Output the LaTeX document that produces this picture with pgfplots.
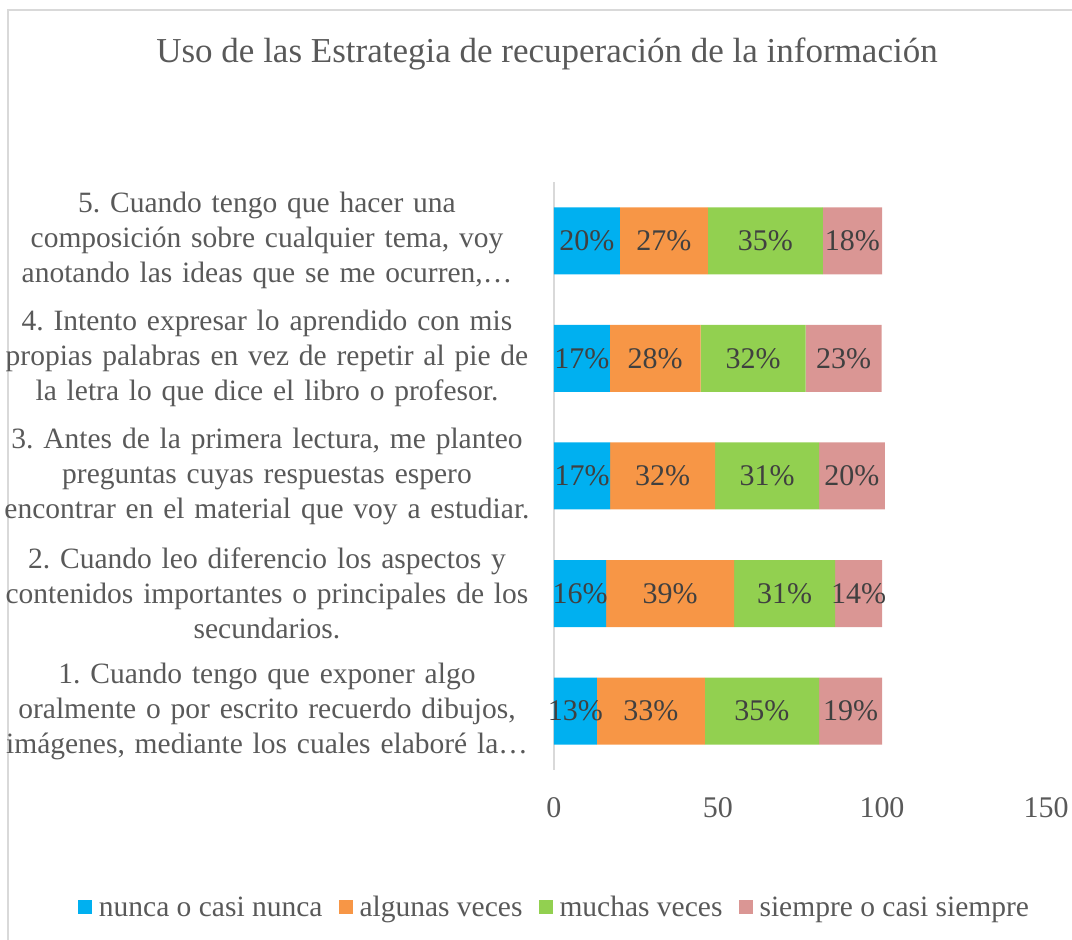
\documentclass[border=0pt]{standalone}
\usepackage{pgfplots}
\pgfplotsset{compat=1.18}
\usepackage{pgfplotstable}
\usepackage{fontspec}
\setmainfont{Liberation Serif}
\frenchspacing
\definecolor{cblue}{HTML}{00B0F0}
\definecolor{corange}{HTML}{F79646}
\definecolor{cgreen}{HTML}{92D050}
\definecolor{cpink}{HTML}{DA9694}
\definecolor{txt}{HTML}{595959}
\definecolor{lbl}{HTML}{404040}
\definecolor{framec}{HTML}{D9D9D9}

\pgfplotstableread{
cat n a m s ln la lm ls
1 13.1 32.9 34.8 19.2 13 33 35 19
2 15.9 39.0 30.8 14.3 16 39 31 14
3 17.1 32.0 31.7 20.1 17 32 31 20
4 17.0 27.7 32.0 23.2 17 28 32 23
5 20.1 26.8 35.1 18.0 20 27 35 18
}\data

\begin{document}
\begin{tikzpicture}[x=1pt,y=1pt]
\useasboundingbox (0,0) rectangle (1072,940);
\draw[framec, line width=1.5pt] (8,-20) -- (8,930) -- (1090,930);
\node[font=\fontsize{35}{42}\selectfont, text=txt, anchor=base] at (547,877) {Uso de las Estrategia de recuperación de la información};

\pgfplotsset{common/.style={
  at={(554pt,170pt)}, anchor=south west,
  width=492pt, height=588pt, scale only axis,
  xmin=0, xmax=150, ymin=0.5, ymax=5.5,
}}

\begin{axis}[common,
  xbar stacked, bar width=67pt,
  axis lines*=left,
  x axis line style={draw=none},
  y axis line style={draw=framec, line width=1.2pt},
  major tick length=0pt,
  xtick={0,50,100,150},
  ytick={1,2,3,4,5},
  /pgf/number format/assume math mode=true,
  x tick label style={font=\fontsize{30}{36}\selectfont, text=txt, anchor=center, yshift=-38pt},
  yticklabels={
    {1. Cuando tengo que exponer algo\\oralmente o por escrito recuerdo dibujos,\\imágenes, mediante los cuales elaboré la…},
    {2. Cuando leo diferencio los aspectos y\\contenidos importantes o principales de los\\secundarios.},
    {3. Antes de la primera lectura, me planteo\\preguntas cuyas respuestas espero\\encontrar en el material que voy a estudiar.},
    {4. Intento expresar lo aprendido con mis\\propias palabras en vez de repetir al pie de\\la letra lo que dice el libro o profesor.},
    {5. Cuando tengo que hacer una\\composición sobre cualquier tema, voy\\anotando las ideas que se me ocurren,…}},
  y tick label style={font=\fontsize{29.5}{35}\selectfont, text=txt, anchor=center, align=center, text width=540pt, xshift=-287pt},
  legend columns=4,
  legend style={at={(0.002,-0.233)}, anchor=center, draw=none, fill=none,
    font=\fontsize{29.5}{36}\selectfont, text=txt,
    /tikz/every odd column/.append style={column sep=4pt},
    /tikz/every even column/.append style={column sep=13pt},
    nodes={inner sep=3pt}},
  legend image code/.code={\fill[#1] (0pt,-7pt) rectangle (14pt,7pt);},
]
\addplot[fill=cblue, draw=none] table[x=n, y=cat] {\data};
\addplot[fill=corange, draw=none] table[x=a, y=cat] {\data};
\addplot[fill=cgreen, draw=none] table[x=m, y=cat] {\data};
\addplot[fill=cpink, draw=none] table[x=s, y=cat] {\data};
\legend{nunca o casi nunca, algunas veces, muchas veces, siempre o casi siempre}
\end{axis}

\begin{axis}[common, hide axis,
  nodes near coords={\pgfplotspointmeta\%},
  point meta=explicit symbolic,
  nodes near coords style={anchor=center, font=\fontsize{30}{36}\selectfont, text=lbl, inner sep=0pt},
]
\addplot[draw=none, mark=none] table[x expr=\thisrow{n}/2, y=cat, meta=ln] {\data};
\addplot[draw=none, mark=none] table[x expr=\thisrow{n}+\thisrow{a}/2, y=cat, meta=la] {\data};
\addplot[draw=none, mark=none] table[x expr=\thisrow{n}+\thisrow{a}+\thisrow{m}/2, y=cat, meta=lm] {\data};
\addplot[draw=none, mark=none] table[x expr=\thisrow{n}+\thisrow{a}+\thisrow{m}+\thisrow{s}/2, y=cat, meta=ls] {\data};
\end{axis}
\end{tikzpicture}
\end{document}
